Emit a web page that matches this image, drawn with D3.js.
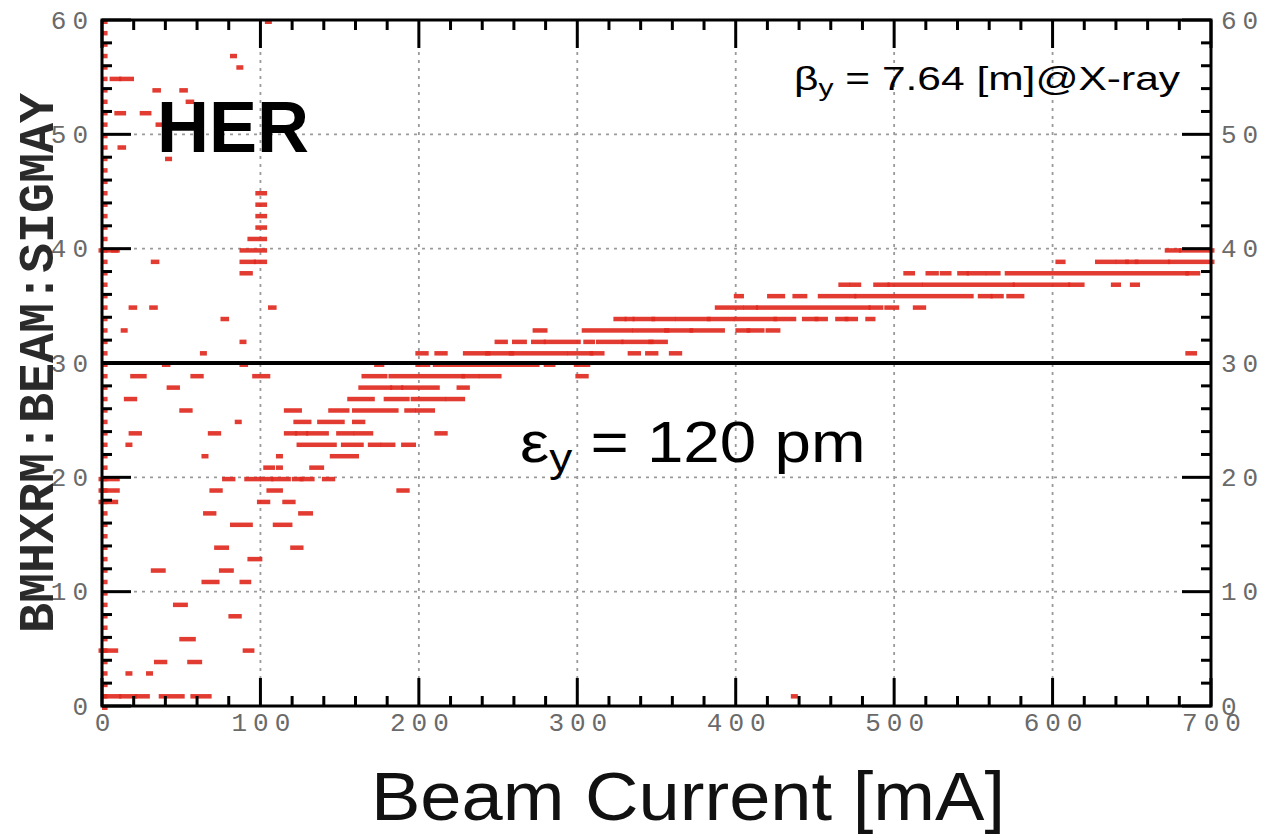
<!DOCTYPE html>
<html><head><meta charset="utf-8">
<script src="https://cdn.jsdelivr.net/npm/d3@7"></script>
<style>
html,body{margin:0;padding:0;background:#fff;}
svg{display:block;}
</style></head>
<body>
<svg id="chart" width="1279" height="840"></svg>
<script>
// ---------- data (beam current in mA, SIGMAY level) ----------
const xTickValues = [0, 100, 200, 300, 400, 500, 600, 700];
const yTickValues = [0, 10, 20, 30, 40, 50, 60];
const referenceSigma = 30;

// runs of consecutive measurements: start current, end current, sigma level
const runStart = [
 105, 83, 87, 7, 13, 34, 51, 55, 10, 26, 36, 48, 12, 83, 42,
 99, 99, 99, 99, 94,
 0, 8, 89, 673, 682,
 33, 89, 98, 604, 629, 642, 648, 654, 675,
 89, 508, 522, 531, 542, 548, 560, 572, 686,
 467, 474, 489, 498, 520, 577, 612, 639, 651,
 401, 422, 438, 454, 477, 555, 563, 573,
 19, 32, 107, 389, 407, 415, 486, 496, 514,
 77, 325, 332, 337, 349, 364, 384, 401, 426, 444, 452, 465, 471, 484,
 14, 274, 305, 337, 357, 373, 402, 409, 421,
 89, 250, 261, 273, 281, 306, 314, 330, 347,
 64, 200, 212, 230, 244, 259, 296, 310, 334, 345, 360, 686,
 40, 89, 174, 200, 211, 281, 300,
 20, 58, 97, 166, 183, 229, 240, 301,
 43, 164, 184, 191, 226,
 16, 157, 180, 197, 219,
 51, 117, 145, 160, 193, 200,
 86, 123, 138, 160,
 19, 69, 117, 124, 131, 150, 161, 212,
 17, 125, 153, 170, 178, 191,
 65, 112, 146,
 104, 112, 133,
 0, 78, 92, 102, 109, 122, 127, 141,
 0, 70, 106, 188,
 0, 100, 116,
 66, 126,
 83, 110,
 73, 121,
 94,
 33, 76,
 65, 89,
 47,
 82,
 51,
 0, 91,
 35, 56,
 17, 30,
 3, 13, 23, 38, 58, 437
];
const runEnd = [
 105, 83, 87, 10, 18, 35, 52, 56, 13, 29, 37, 48, 13, 83, 42,
 102, 102, 102, 102, 102,
 8, 9, 102, 679, 700,
 34, 95, 102, 606, 638, 646, 652, 672, 700,
 93, 511, 526, 534, 545, 556, 565, 684, 691,
 470, 477, 495, 516, 574, 609, 618, 641, 653,
 403, 429, 443, 474, 548, 560, 567, 580,
 20, 33, 108, 403, 412, 483, 491, 501, 518,
 78, 329, 334, 347, 360, 382, 397, 424, 436, 450, 456, 469, 475, 486,
 14, 279, 333, 356, 371, 391, 407, 416, 426,
 89, 254, 266, 278, 300, 309, 327, 346, 355,
 64, 204, 216, 243, 258, 292, 308, 315, 338, 349, 364, 689,
 41, 90, 176, 205, 274, 284, 306,
 26, 62, 104, 178, 227, 236, 250, 305,
 47, 181, 188, 211, 230,
 20, 170, 192, 215, 227,
 55, 124, 154, 185, 196, 208,
 86, 130, 151, 164,
 23, 73, 121, 128, 141, 157, 169, 216,
 17, 146, 163, 174, 183, 196,
 65, 112, 160,
 107, 112, 138,
 9, 82, 98, 106, 117, 125, 132, 145,
 9, 74, 112, 192,
 8, 104, 120,
 70, 131,
 93, 118,
 78, 125,
 99,
 38, 81,
 72, 92,
 52,
 86,
 57,
 8, 94,
 39, 61,
 17, 30,
 10, 20, 28, 50, 67, 437
];
const runSigma = [
 60, 57, 56, 55, 55, 54, 54, 53, 52, 52, 51, 51, 49, 49, 48,
 45, 44, 43, 42, 41,
 40, 40, 40, 40, 40,
 39, 39, 39, 39, 39, 39, 39, 39, 39,
 38, 38, 38, 38, 38, 38, 38, 38, 38,
 37, 37, 37, 37, 37, 37, 37, 37, 37,
 36, 36, 36, 36, 36, 36, 36, 36,
 35, 35, 35, 35, 35, 35, 35, 35, 35,
 34, 34, 34, 34, 34, 34, 34, 34, 34, 34, 34, 34, 34, 34,
 33, 33, 33, 33, 33, 33, 33, 33, 33,
 32, 32, 32, 32, 32, 32, 32, 32, 32,
 31, 31, 31, 31, 31, 31, 31, 31, 31, 31, 31, 31,
 30, 30, 30, 30, 30, 30, 30,
 29, 29, 29, 29, 29, 29, 29, 29,
 28, 28, 28, 28, 28,
 27, 27, 27, 27, 27,
 26, 26, 26, 26, 26, 26,
 25, 25, 25, 25,
 24, 24, 24, 24, 24, 24, 24, 24,
 23, 23, 23, 23, 23, 23,
 22, 22, 22,
 21, 21, 21,
 20, 20, 20, 20, 20, 20, 20, 20,
 19, 19, 19, 19,
 18, 18, 18,
 17, 17,
 16, 16,
 14, 14,
 13,
 12, 12,
 11, 11,
 9,
 8,
 6,
 5, 5,
 4, 4,
 3, 3,
 1, 1, 1, 1, 1, 1
];
// single readings stacked along the zero-current edge
const edgeSigma = [0,1,2,3,4,5,6,7,8,9,10,11,12,13,14,15,16,17,18,19,20,21,22,23,24,25,26,27,28,29,
 30,31,32,33,34,35,36,37,38,39,40,41,42,43,44,45,46,47,48,49,50,51,52,53,54,55,56,57,58,59,60];
const edgeCurrent = [1,1,1,1,1,1,1,1,1,1,1,1,1,1,1,1,1,1,1,1,1,1,1,1,1,1,1,1,1,1,
 1,1,1,1,1,1,1,1,1,1,1,1,1,1,1,1,1,1,1,1,1,1,1,1,1,1,1,1,1,1,1];

// ---------- drawing ----------
const svg = d3.select("#chart");
const x = d3.scaleLinear().domain([0, 700]).range([102, 1211]);
const y = d3.scaleLinear().domain([0, 60]).range([706, 20]);
const red = "#e02a20";

// grid
const grid = svg.append("g");
grid.selectAll("line.gx").data(xTickValues.slice(1, -1)).join("line")
  .attr("x1", d => x(d)).attr("x2", d => x(d)).attr("y1", y(60)).attr("y2", y(0))
  .attr("stroke", "#9a9a9a").attr("stroke-width", 1.8).attr("stroke-dasharray", "3,5");
grid.selectAll("line.gy").data(yTickValues.slice(1, -1)).join("line")
  .attr("y1", d => y(d)).attr("y2", d => y(d)).attr("x1", x(0)).attr("x2", x(700))
  .attr("stroke", "#9a9a9a").attr("stroke-width", 1.8).attr("stroke-dasharray", "3,5");

// data runs
const runs = runStart.map((s, i) => ({s, e: runEnd[i], v: runSigma[i]}));
svg.append("g").selectAll("rect").data(runs).join("rect")
  .attr("x", d => x(d.s) - 3.5)
  .attr("width", d => x(d.e) - x(d.s) + 7)
  .attr("y", d => y(d.v) - 0.5)
  .attr("height", 4.5)
  .attr("fill", red).attr("opacity", 0.92);
const edge = edgeSigma.map((v, i) => ({v, c: edgeCurrent[i]}));
svg.append("g").selectAll("rect").data(edge).join("rect")
  .attr("x", d => x(0))
  .attr("width", d => x(d.c) - x(0) + 4)
  .attr("y", d => y(d.v) - 0.5)
  .attr("height", 4.5)
  .attr("fill", red).attr("opacity", 0.9);

// reference line at 30
svg.append("line")
  .attr("x1", x(0)).attr("x2", x(700)).attr("y1", y(referenceSigma)).attr("y2", y(referenceSigma))
  .attr("stroke", "#000").attr("stroke-width", 4);

// ticks (inward), drawn from the scales
const minorX = d3.range(0, 701, 20).filter(d => d % 100 !== 0);
const minorY = d3.range(0, 61, 2).filter(d => d % 10 !== 0);
const ticks = svg.append("g").attr("stroke", "#000").attr("stroke-width", 3);
function xTicks(vals, len) {
  ticks.append("g").selectAll("line").data(vals).join("line")
    .attr("x1", d => x(d)).attr("x2", d => x(d)).attr("y1", y(0)).attr("y2", y(0) - len);
  ticks.append("g").selectAll("line").data(vals).join("line")
    .attr("x1", d => x(d)).attr("x2", d => x(d)).attr("y1", y(60)).attr("y2", y(60) + len);
}
function yTicks(vals, len) {
  ticks.append("g").selectAll("line").data(vals).join("line")
    .attr("y1", d => y(d)).attr("y2", d => y(d)).attr("x1", x(0)).attr("x2", x(0) + len);
  ticks.append("g").selectAll("line").data(vals).join("line")
    .attr("y1", d => y(d)).attr("y2", d => y(d)).attr("x1", x(700)).attr("x2", x(700) - len);
}
xTicks(minorX, 10); xTicks(xTickValues, 28);
yTicks(minorY, 10); yTicks(yTickValues, 29);

// tick labels via d3 axes (tick lines hidden, drawn above)
const tickFont = "'Liberation Mono', 'Courier New', monospace";
function styleAxis(g) {
  g.select(".domain").remove();
  g.selectAll(".tick line").remove();
  g.selectAll(".tick text")
    .attr("font-family", tickFont).attr("font-size", 26).attr("fill", "#6a6a6a")
    .attr("letter-spacing", "6px");
}
svg.append("g").attr("transform", `translate(3,${y(0)})`)
  .call(d3.axisBottom(x).tickValues(xTickValues).tickSize(0).tickPadding(7).tickFormat(d3.format("d")))
  .call(styleAxis);
svg.append("g").attr("transform", `translate(${x(0) - 8},0)`)
  .call(d3.axisLeft(y).tickValues(yTickValues).tickSize(0).tickPadding(0).tickFormat(d3.format("d")))
  .call(styleAxis);
svg.append("g").attr("transform", `translate(${x(700) + 10},0)`)
  .call(d3.axisRight(y).tickValues(yTickValues).tickSize(0).tickPadding(0).tickFormat(d3.format("d")))
  .call(styleAxis);

// frame
svg.append("rect")
  .attr("x", x(0)).attr("y", y(60)).attr("width", x(700) - x(0)).attr("height", y(0) - y(60))
  .attr("fill", "none").attr("stroke", "#000").attr("stroke-width", 3);

// y axis title
svg.append("text")
  .attr("transform", `translate(53,${(y(0) + y(60)) / 2}) rotate(-90)`)
  .attr("text-anchor", "middle")
  .attr("font-family", tickFont).attr("font-weight", "bold").attr("font-size", 50)
  .attr("fill", "#2a2a2a")
  .text("BMHXRM:BEAM:SIGMAY");

// x axis title
svg.append("text")
  .attr("transform", "translate(688,820) scale(1.09,1)")
  .attr("text-anchor", "middle")
  .attr("font-family", "'Liberation Sans', Arial, sans-serif").attr("font-size", 68).attr("fill", "#111")
  .text("Beam Current [mA]");

// annotations
svg.append("text")
  .attr("x", 157).attr("y", 152)
  .attr("font-family", "'Liberation Sans', Arial, sans-serif").attr("font-weight", "bold").attr("font-size", 72)
  .attr("fill", "#000").text("HER");

const beta = svg.append("text")
  .attr("transform", "translate(1180,90) scale(1.25,1)")
  .attr("text-anchor", "end")
  .attr("font-family", "'Liberation Sans', Arial, sans-serif").attr("font-size", 34).attr("fill", "#000");
beta.append("tspan").text("β");
beta.append("tspan").attr("font-size", 24).attr("dy", 6).text("y");
beta.append("tspan").attr("dy", -6).text(" = 7.64 [m]@X-ray");

const eps = svg.append("text")
  .attr("transform", "translate(520,462) scale(1.15,1)")
  .attr("font-family", "'Liberation Sans', Arial, sans-serif").attr("font-size", 57).attr("fill", "#000");
eps.append("tspan").text("ε");
eps.append("tspan").attr("font-size", 40).attr("dy", 10).text("y");
eps.append("tspan").attr("dy", -10).text(" = 120 pm");
</script>
</body></html>
